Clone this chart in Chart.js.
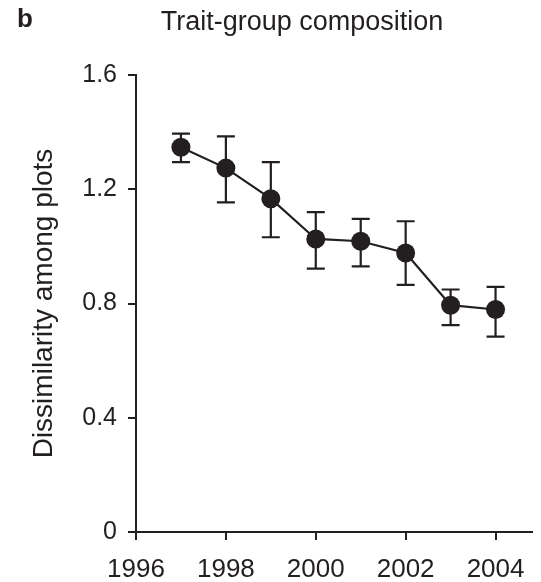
<!DOCTYPE html>
<html>
<head>
<meta charset="utf-8">
<script src="https://cdn.jsdelivr.net/npm/chart.js@4/dist/chart.umd.min.js"></script>
<style>
  html, body { margin: 0; padding: 0; background: #fff; }
  #wrap { width: 541px; height: 582px; position: relative; }
</style>
</head>
<body>
<div id="wrap"><canvas id="c" width="541" height="582"></canvas></div>
<script>
// ---- data ----
const panelLetter = 'b';
const chartTitle = 'Trait-group composition';
const yAxisTitle = 'Dissimilarity among plots';
const years = [1997, 1998, 1999, 2000, 2001, 2002, 2003, 2004];
const means = [1.347, 1.274, 1.167, 1.026, 1.018, 0.977, 0.794, 0.779];
const errTop = [1.395, 1.385, 1.295, 1.120, 1.096, 1.088, 0.849, 0.858];
const errBottom = [1.295, 1.154, 1.032, 0.922, 0.930, 0.865, 0.724, 0.684];
const xTicks = [1996, 1998, 2000, 2002, 2004];
const yTicks = [0, 0.4, 0.8, 1.2, 1.6];

const INK = '#231f20';
const FONT = "'Liberation Sans', Arial, Helvetica, sans-serif";

const errorBarPlugin = {
  id: 'errorBars',
  beforeDatasetsDraw(chart) {
    const ctx = chart.ctx;
    const xs = chart.scales.x, ys = chart.scales.y;
    ctx.save();
    ctx.strokeStyle = INK;
    ctx.lineWidth = 2.2;
    const cap = 9;
    years.forEach((yr, i) => {
      const px = xs.getPixelForValue(yr);
      const pt = ys.getPixelForValue(errTop[i]);
      const pb = ys.getPixelForValue(errBottom[i]);
      ctx.beginPath();
      ctx.moveTo(px, pt); ctx.lineTo(px, pb);
      ctx.moveTo(px - cap, pt); ctx.lineTo(px + cap, pt);
      ctx.moveTo(px - cap, pb); ctx.lineTo(px + cap, pb);
      ctx.stroke();
    });
    ctx.restore();
  }
};

const headerPlugin = {
  id: 'header',
  afterDraw(chart) {
    const ctx = chart.ctx;
    ctx.save();
    ctx.fillStyle = INK;
    ctx.textBaseline = 'alphabetic';
    ctx.textAlign = 'left';
    ctx.font = 'bold 26px ' + FONT;
    ctx.fillText(panelLetter, 17, 27);
    ctx.textAlign = 'center';
    ctx.font = '27px ' + FONT;
    ctx.fillText(chartTitle, 302, 30);
    ctx.restore();
  }
};

new Chart(document.getElementById('c'), {
  type: 'scatter',
  data: {
    datasets: [{
      data: years.map((y, i) => ({ x: y, y: means[i] })),
      showLine: true,
      borderColor: INK,
      borderWidth: 2.2,
      backgroundColor: INK,
      pointBackgroundColor: INK,
      pointBorderColor: INK,
      pointRadius: 9.5,
      pointBorderWidth: 0,
      tension: 0
    }]
  },
  options: {
    responsive: false,
    animation: false,
    devicePixelRatio: 1,
    layout: { padding: { top: 75, right: 0, left: 0, bottom: 0 } },
    plugins: { legend: { display: false }, tooltip: { enabled: false } },
    scales: {
      x: {
        type: 'linear',
        min: 1996,
        max: 2004.8,
        afterBuildTicks: s => { s.ticks = xTicks.map(v => ({ value: v })); },
        afterFit: s => { s.height = 50; },
        grid: { display: true, drawOnChartArea: false, drawTicks: true, tickLength: 8, color: INK, lineWidth: 2 },
        border: { display: true, color: INK, width: 2 },
        ticks: { color: INK, font: { family: FONT, size: 26 }, padding: 14, maxRotation: 0,
                 callback: v => String(v) }
      },
      y: {
        type: 'linear',
        min: 0,
        max: 1.6,
        afterBuildTicks: s => { s.ticks = yTicks.map(v => ({ value: v })); },
        afterFit: s => { s.width = 136; },
        grid: { display: true, drawOnChartArea: false, drawTicks: true, tickLength: 8, color: INK, lineWidth: 2 },
        border: { display: true, color: INK, width: 2 },
        ticks: { color: INK, font: { family: FONT, size: 25 }, padding: 11,
                 callback: v => (v === 0 ? '0' : v.toFixed(1)) },
        title: { display: true, text: yAxisTitle, color: INK, font: { family: FONT, size: 28 }, padding: { top: 27, bottom: 0 } }
      }
    }
  },
  plugins: [errorBarPlugin, headerPlugin]
});
</script>
</body>
</html>
